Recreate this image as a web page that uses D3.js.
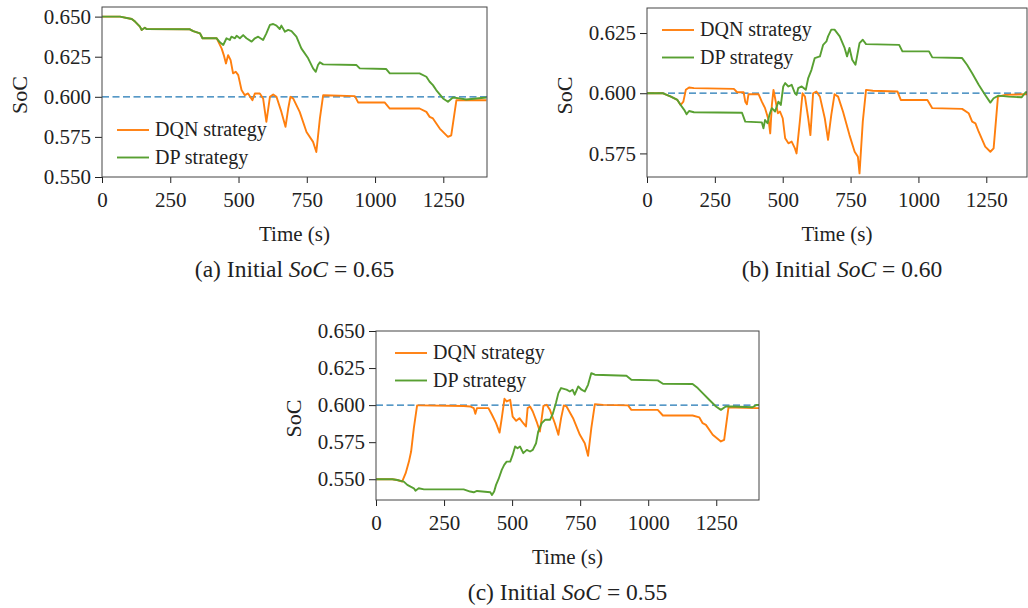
<!DOCTYPE html>
<html>
<head>
<script src="https://d3js.org/d3.v7.min.js"></script>
<style>
  body { margin: 0; background: #fff; }
  svg text { font-family: "Liberation Serif", "Times New Roman", Tinos, "DejaVu Serif", serif; fill: #222; }
</style>
</head>
<body>
<svg width="1028" height="608"></svg>
<script>
// values: [time (s), SoC]
const xTicks = [0, 250, 500, 750, 1000, 1250];
const yTicksA = [0.550, 0.575, 0.600, 0.625, 0.650];
const yTicksB = [0.575, 0.600, 0.625];
const yTicksC = [0.550, 0.575, 0.600, 0.625, 0.650];
const seriesNames = ["DQN strategy", "DP strategy"];
const targetSoC = 0.6;

const dpA = [[0,.6500],[66,.6500],[109,.6485],[121,.6469],[139,.6438],[145,.6417],[157,.6431],[163,.6423],[322,.6421],[334,.6410],[359,.6396],[368,.6365],[420,.6365],[432,.6340],[444,.6323],[456,.6365],[468,.6354],[474,.6375],[487,.6365],[493,.6381],[505,.6365],[517,.6385],[529,.6365],[548,.6344],[560,.6365],[572,.6375],[590,.6354],[602,.6396],[615,.6448],[627,.6454],[639,.6444],[651,.6423],[657,.6444],[670,.6406],[682,.6417],[694,.6410],[712,.6375],[730,.6302],[755,.6240],[773,.6177],[783,.6156],[791,.6198],[798,.6215],[810,.6202],[932,.6198],[944,.6177],[1041,.6173],[1054,.6146],[1163,.6146],[1188,.6125],[1200,.6094],[1212,.6073],[1224,.6042],[1249,.5990],[1267,.5969],[1285,.5996],[1310,.5990],[1334,.5983],[1408,.5996]];
const dqnA = [[0,.6500],[66,.6500],[109,.6485],[121,.6469],[139,.6438],[145,.6417],[157,.6431],[163,.6423],[322,.6421],[334,.6410],[359,.6396],[368,.6365],[420,.6365],[426,.6344],[438,.6302],[446,.6260],[454,.6208],[462,.6260],[471,.6229],[480,.6146],[490,.6156],[499,.6135],[511,.6042],[523,.6010],[535,.6021],[551,.5979],[560,.6021],[578,.6021],[590,.5990],[602,.5844],[615,.6000],[627,.6015],[639,.6000],[657,.5906],[672,.5813],[682,.5927],[690,.6000],[700,.5990],[724,.5906],[749,.5781],[773,.5719],[785,.5656],[798,.5865],[810,.6010],[926,.6004],[938,.5965],[1035,.5965],[1054,.5927],[1163,.5927],[1188,.5906],[1200,.5875],[1212,.5865],[1237,.5802],[1267,.5750],[1279,.5760],[1298,.5979],[1334,.5979],[1408,.5979]];

const dpB = [[0,.6000],[57,.6000],[88,.5986],[112,.5972],[124,.5951],[137,.5931],[146,.5913],[155,.5926],[173,.5921],[350,.5919],[362,.5882],[423,.5879],[429,.5854],[435,.5889],[444,.5875],[451,.5910],[460,.5938],[472,.5924],[484,.5965],[493,.5951],[502,.6028],[509,.6042],[521,.6028],[533,.6035],[545,.6000],[551,.5993],[557,.6021],[570,.6028],[585,.6014],[594,.6063],[606,.6097],[618,.6146],[637,.6153],[649,.6201],[661,.6215],[667,.6236],[679,.6264],[691,.6264],[710,.6236],[728,.6188],[737,.6153],[746,.6188],[756,.6139],[768,.6118],[783,.6208],[795,.6222],[807,.6204],[929,.6201],[941,.6174],[1039,.6174],[1051,.6149],[1161,.6146],[1179,.6118],[1198,.6083],[1222,.6035],[1246,.5993],[1265,.5961],[1277,.5979],[1295,.5990],[1332,.5986],[1380,.5983],[1395,.6004],[1408,.6004]];
const dqnB = [[0,.6000],[57,.6000],[88,.5986],[112,.5972],[124,.5951],[134,.5965],[143,.6014],[155,.6024],[173,.6021],[320,.6018],[332,.6004],[356,.6004],[362,.5965],[368,.5954],[374,.5996],[411,.5996],[423,.5965],[435,.5938],[448,.5889],[454,.5833],[460,.5951],[466,.6014],[472,.5979],[482,.5917],[490,.5924],[500,.5896],[509,.5813],[521,.5792],[533,.5799],[545,.5771],[551,.5750],[563,.5882],[573,.6000],[582,.5986],[594,.5896],[602,.5826],[612,.6000],[624,.6007],[637,.5986],[655,.5896],[667,.5806],[679,.5910],[691,.5996],[704,.5986],[722,.5924],[746,.5826],[765,.5757],[777,.5736],[783,.5667],[795,.5882],[807,.6014],[832,.6010],[923,.6007],[935,.5972],[1033,.5972],[1051,.5938],[1161,.5935],[1185,.5917],[1198,.5882],[1210,.5875],[1222,.5840],[1246,.5778],[1265,.5757],[1277,.5771],[1293,.5986],[1320,.5993],[1393,.5996],[1408,.5996]];

const dpC = [[0,.5500],[60,.5500],[78,.5495],[102,.5484],[115,.5462],[127,.5450],[139,.5439],[145,.5423],[157,.5439],[176,.5432],[322,.5432],[346,.5417],[359,.5412],[371,.5421],[420,.5412],[426,.5394],[434,.5417],[441,.5462],[450,.5500],[462,.5563],[471,.5597],[480,.5619],[493,.5619],[502,.5664],[511,.5721],[520,.5709],[529,.5721],[541,.5676],[554,.5698],[566,.5687],[576,.5698],[588,.5743],[596,.5822],[609,.5878],[621,.5901],[639,.5901],[649,.5939],[661,.6014],[670,.6081],[680,.6115],[700,.6104],[712,.6092],[722,.6104],[730,.6070],[743,.6126],[755,.6104],[767,.6092],[779,.6137],[791,.6216],[804,.6205],[920,.6198],[938,.6171],[1035,.6167],[1054,.6144],[1163,.6142],[1182,.6115],[1200,.6081],[1224,.6036],[1249,.5991],[1267,.5968],[1285,.5991],[1310,.5991],[1383,.5986],[1398,.6002],[1408,.6002]];
const dqnC = [[0,.5500],[60,.5500],[78,.5495],[96,.5484],[109,.5541],[121,.5619],[129,.5687],[139,.5845],[151,.5998],[163,.5998],[322,.5994],[346,.5991],[359,.5980],[365,.5942],[371,.5980],[413,.5980],[426,.5935],[441,.5878],[454,.5815],[462,.5912],[472,.6043],[480,.6025],[493,.6036],[502,.5923],[515,.5894],[527,.5912],[541,.5878],[551,.5856],[557,.5980],[566,.5991],[576,.5957],[590,.5889],[602,.5822],[615,.5995],[627,.6002],[639,.5968],[657,.5878],[670,.5800],[680,.5912],[690,.5998],[700,.5991],[724,.5912],[749,.5800],[767,.5743],[779,.5658],[791,.5845],[804,.6007],[834,.6002],[926,.5998],[938,.5968],[1035,.5968],[1054,.5930],[1163,.5930],[1188,.5917],[1200,.5878],[1212,.5867],[1237,.5800],[1267,.5755],[1279,.5766],[1295,.5984],[1322,.5984],[1398,.5980],[1408,.5980]];

const colors = { dqn: "#ff7f0e", dp: "#58a032", target: "#1f77b4" };
const serif = '"Liberation Serif", "Times New Roman", Tinos, "DejaVu Serif", serif';

const panels = [
  { tag: "(a)", init: "0.65", dqn: dqnA, dp: dpA, yTicks: yTicksA,
    xDom: [0, 1410], yDom: [0.550, 0.656], box: { l: 102, r: 487, t: 7, b: 177 }, leg: { x: 15, y: 123 }, capDx: 0 },
  { tag: "(b)", init: "0.60", dqn: dqnB, dp: dpB, yTicks: yTicksB,
    xDom: [0, 1400], yDom: [0.5652, 0.6354], box: { l: 647, r: 1027, t: 8, b: 177 }, leg: { x: 15, y: 22 }, capDx: 5 },
  { tag: "(c)", init: "0.55", dqn: dqnC, dp: dpC, yTicks: yTicksC,
    xDom: [0, 1407], yDom: [0.536, 0.650], box: { l: 376, r: 759, t: 331, b: 500 }, leg: { x: 19, y: 22 }, capDx: 0 }
];

const svg = d3.select("svg");

panels.forEach(function (p, i) {
  const b = p.box;
  const x = d3.scaleLinear().domain(p.xDom).range([b.l, b.r]);
  const y = d3.scaleLinear().domain(p.yDom).range([b.b, b.t]);
  const g = svg.append("g").attr("font-family", serif);

  g.append("clipPath").attr("id", "clip" + i)
    .append("rect").attr("x", b.l).attr("y", b.t).attr("width", b.r - b.l).attr("height", b.b - b.t);

  const xAxis = g.append("g").attr("transform", `translate(0,${b.b})`)
    .call(d3.axisBottom(x).tickValues(xTicks).tickSize(6).tickSizeOuter(0).tickPadding(9).tickFormat(d3.format("d")));
  const yAxis = g.append("g").attr("transform", `translate(${b.l},0)`)
    .call(d3.axisLeft(y).tickValues(p.yTicks).tickSize(7).tickSizeOuter(0).tickPadding(4).tickFormat(d3.format(".3f")));
  [xAxis, yAxis].forEach(function (a) {
    a.attr("font-family", serif).attr("font-size", 21);
    a.select(".domain").remove();
    a.selectAll("line").attr("stroke", "#222");
    a.selectAll("text").attr("fill", "#222");
  });

  const plot = g.append("g").attr("clip-path", `url(#clip${i})`);
  plot.append("line")
    .attr("x1", x(p.xDom[0])).attr("x2", x(p.xDom[1]))
    .attr("y1", y(targetSoC)).attr("y2", y(targetSoC))
    .attr("stroke", colors.target).attr("stroke-width", 1.3).attr("stroke-dasharray", "7,3.5");

  const line = d3.line().x(d => x(d[0])).y(d => y(d[1]));
  plot.append("path").datum(p.dqn).attr("d", line)
    .attr("fill", "none").attr("stroke", colors.dqn).attr("stroke-width", 1.9).attr("stroke-linejoin", "round");
  plot.append("path").datum(p.dp).attr("d", line)
    .attr("fill", "none").attr("stroke", colors.dp).attr("stroke-width", 1.9).attr("stroke-linejoin", "round");

  g.append("rect").attr("x", b.l).attr("y", b.t).attr("width", b.r - b.l).attr("height", b.b - b.t)
    .attr("fill", "none").attr("stroke", "#444").attr("stroke-width", 1);

  // legend
  [colors.dqn, colors.dp].forEach(function (c, k) {
    const ly = b.t + p.leg.y + k * 27.5;
    g.append("line").attr("x1", b.l + p.leg.x).attr("x2", b.l + p.leg.x + 32)
      .attr("y1", ly).attr("y2", ly).attr("stroke", c).attr("stroke-width", 1.9);
    g.append("text").attr("x", b.l + p.leg.x + 38).attr("y", ly + 6)
      .attr("font-size", 20).text(seriesNames[k]);
  });

  const cx = (b.l + b.r) / 2;
  g.append("text").attr("x", cx).attr("y", b.b + 64).attr("text-anchor", "middle")
    .attr("font-size", 21).text("Time (s)");
  g.append("text").attr("transform", `translate(${b.l - 83},${(b.t + b.b) / 2 + 3}) rotate(-90)`)
    .attr("text-anchor", "middle").attr("dominant-baseline", "central")
    .attr("font-size", 22).text("SoC");

  const cap = g.append("text").attr("x", cx + p.capDx).attr("y", b.b + 100)
    .attr("text-anchor", "middle").attr("font-size", 23.5);
  cap.append("tspan").text(p.tag + " Initial ");
  cap.append("tspan").attr("font-style", "italic").text("SoC");
  cap.append("tspan").text(" = " + p.init);
});
</script>
</body>
</html>
